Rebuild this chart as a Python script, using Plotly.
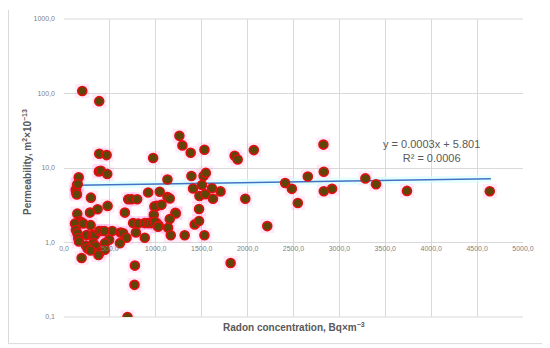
import plotly.graph_objects as go

# Data
radon = [199, 384, 384, 464, 380, 402, 471, 160, 971, 1257, 1290, 1380, 1530, 1859, 1892, 2068, 2826,
         142, 128, 133, 140, 150, 293, 700, 736, 797, 475, 917, 1010, 985, 1127, 1043, 1127, 1152, 1062,
         1388, 1520, 1545, 1503, 1406, 1475, 1540, 1612, 1705, 1623, 1975, 2409, 2482, 2547, 2656, 2830,
         2830, 2920, 3283, 3399, 3736, 4638, 366, 1471, 1214,
         145, 283, 663, 978, 1217, 166, 192, 210, 120, 130, 290, 753, 808, 880, 917, 953, 1008, 1152,
         989, 1033, 1134, 1424, 1471, 1025, 525, 616, 645, 783, 880, 247, 308, 337, 384, 410, 440,
         145, 155, 163, 1163, 1315, 1530, 681, 492,
         239, 319, 344, 446, 609, 257, 290, 391, 446, 192, 375, 772, 768, 692, 1815, 2214]
permeability = [108, 79, 15.5, 14.9, 9.0, 9.2, 8.3, 7.5, 13.6, 27, 20.1, 16.0, 17.6, 14.6, 13.0, 17.4, 20.6,
                5.9, 5.1, 4.7, 4.4, 6.1, 4.0, 3.8, 3.8, 3.8, 3.1, 4.7, 3.1, 3.05, 7.0, 4.8, 4.07, 3.9, 3.2,
                7.8, 7.8, 8.6, 5.9, 5.3, 4.2, 4.45, 5.35, 4.85, 3.86, 3.86, 6.3, 5.25, 3.39, 7.7, 8.9,
                4.88, 5.25, 7.25, 6.04, 4.93, 4.88, 2.8, 2.82, 2.5,
                2.44, 2.52, 2.52, 2.35, 2.45, 1.94, 1.86, 1.8, 1.8, 1.47, 1.71, 1.82, 1.8, 1.82, 1.82, 1.82, 1.82, 2.06,
                1.9, 1.68, 1.58, 1.75, 1.94, 1.63, 1.43, 1.36, 1.33, 1.36, 1.16, 1.26, 1.26, 1.26, 1.43, 1.43, 1.43,
                1.33, 1.14, 1.03, 1.25, 1.25, 1.25, 1.16, 1.09,
                0.91, 0.98, 0.9, 0.98, 0.98, 0.83, 0.78, 0.74, 0.80, 0.62, 0.68, 0.49, 0.27, 0.1, 0.53, 1.66]

trend_slope = 0.0003
trend_intercept = 5.801
trend_x = [150, 1000, 2000, 3000, 4000, 4650]
trend_y = [trend_slope * v + trend_intercept for v in trend_x]

x_tickvals = [0, 500, 1000, 1500, 2000, 2500, 3000, 3500, 4000, 4500, 5000]
x_ticktext = ["0,0", "500,0", "1000,0", "1500,0", "2000,0", "2500,0", "3000,0", "3500,0", "4000,0", "4500,0", "5000,0"]
y_tickvals = [0.1, 1, 10, 100, 1000]
y_ticktext = ["0,1", "1,0", "10,0", "100,0", "1000,0"]

GRAY = "#595959"
TICK = "#7f7f7f"
GRID = "#d9d9d9"

fig = go.Figure()

# pink halo behind markers
fig.add_trace(go.Scatter(x=radon, y=permeability, mode="markers",
                         marker=dict(symbol="square", size=14, color="rgba(255,120,220,0.16)", line=dict(width=0)),
                         hoverinfo="skip", showlegend=False))
# trendline glow
fig.add_trace(go.Scatter(x=trend_x, y=trend_y, mode="lines",
                         line=dict(color="rgba(215,255,255,0.7)", width=7),
                         hoverinfo="skip", showlegend=False))
fig.add_trace(go.Scatter(x=trend_x, y=trend_y, mode="lines",
                         line=dict(color="#4472C4", width=1.5), showlegend=False))
fig.add_trace(go.Scatter(x=radon, y=permeability, mode="markers",
                         marker=dict(symbol="circle", size=9, color="#5e4508",
                                     line=dict(color="#e01010", width=1.6)),
                         showlegend=False))

fig.update_layout(
    width=542, height=340,
    margin=dict(l=56, r=27, t=7, b=31),
    paper_bgcolor="white", plot_bgcolor="white",
    font=dict(family="Liberation Sans, Arial, sans-serif", color=GRAY, size=7),
    xaxis=dict(range=[0, 5000], tickvals=x_tickvals, ticktext=x_ticktext,
               showgrid=True, gridcolor=GRID, gridwidth=1, zeroline=False,
               showline=False, ticks="", anchor="free", position=0.25,
               tickfont=dict(size=7, color=TICK)),
    yaxis=dict(type="log", range=[-1, 3], tickvals=y_tickvals, ticktext=y_ticktext,
               showgrid=True, gridcolor=GRID, gridwidth=1, zeroline=False,
               showline=False, ticks="", ticklabelstandoff=8, tickfont=dict(size=7, color=TICK)),
    shapes=[
        dict(type="line", xref="paper", yref="paper", x0=-0.1209, x1=-0.1209, y0=-0.0894, y1=1.03,
             line=dict(color=GRID, width=1), layer="below"),
        dict(type="line", xref="paper", yref="paper", x0=1.0479, x1=1.0479, y0=-0.0894, y1=1.03,
             line=dict(color=GRID, width=1), layer="below"),
        dict(type="line", xref="paper", yref="paper", x0=-0.1209, x1=1.0479, y0=-0.0894, y1=-0.0894,
             line=dict(color=GRID, width=1), layer="below"),
        dict(type="line", xref="paper", yref="paper", x0=0, x1=1, y0=1, y1=1,
             line=dict(color=GRID, width=1), layer="below"),
        dict(type="line", xref="paper", yref="paper", x0=0, x1=1, y0=0, y1=0,
             line=dict(color=GRID, width=1), layer="below"),
    ],
    annotations=[
        dict(text="<b>Radon concentration, Bq×m<sup>−3</sup></b>", xref="paper", yref="paper",
             x=0.5, y=-0.033, xanchor="center", yanchor="middle", showarrow=False,
             font=dict(size=10, color=GRAY)),
        dict(text="<b>Permeability, m<sup>2</sup>×10<sup>−13</sup></b>", xref="paper", yref="paper",
             x=-0.0806, y=0.52, xanchor="center", yanchor="middle", textangle=-90, showarrow=False,
             font=dict(size=10, color=GRAY)),
        dict(text="y = 0.0003x + 5.801<br>R² = 0.0006", xref="paper", yref="paper",
             x=0.8017, y=0.556, xanchor="center", yanchor="middle", showarrow=False,
             font=dict(size=11, color=GRAY)),
    ],
)

fig.write_html("out.html")
